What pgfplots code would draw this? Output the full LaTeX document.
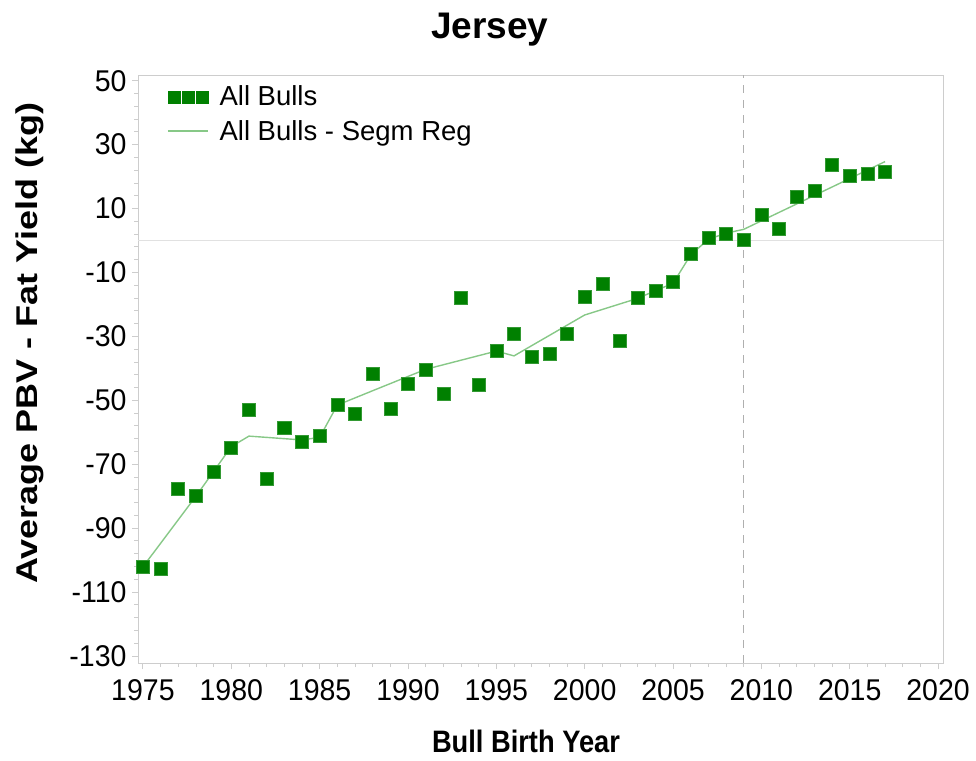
\documentclass[border=0pt]{standalone}
\usepackage{pgfplots}
\usepackage{pgfplotstable}
\pgfplotsset{compat=1.18}
\usepackage{fontspec}
\setmainfont{Liberation Sans}
\newfontfamily\ticksans{Liberation Sans}[FakeStretch=0.95]
\newfontfamily\xlabsans{Liberation Sans}[FakeStretch=0.88]
\newfontfamily\ylabsans{Liberation Sans}[FakeStretch=1.2]

\definecolor{markgreen}{RGB}{0,128,0}
\definecolor{fitgreen}{RGB}{135,200,135}
\definecolor{framegray}{RGB}{205,205,205}
\definecolor{refgray}{RGB}{225,225,225}
\definecolor{dashgray}{RGB}{175,175,175}

% Average PBV for fat yield by bull birth year
\pgfplotstableread{
year  pbv
1975 -102.1
1976 -102.6
1977 -77.8
1978 -80.0
1979 -72.3
1980 -64.8
1981 -53.1
1982 -74.5
1983 -58.6
1984 -63.1
1985 -61.2
1986 -51.4
1987 -54.1
1988 -41.7
1989 -52.8
1990 -44.8
1991 -40.5
1992 -47.9
1993 -17.9
1994 -45.0
1995 -34.6
1996 -29.3
1997 -36.5
1998 -35.6
1999 -29.3
2000 -17.6
2001 -13.6
2002 -31.4
2003 -18.0
2004 -15.8
2005 -12.9
2006 -4.3
2007 0.8
2008 2.1
2009 0.2
2010 8.2
2011 3.8
2012 13.8
2013 15.5
2014 23.6
2015 20.2
2016 20.9
2017 21.5
}\allbulls

% Segmented regression fit
\pgfplotstableread{
year  fit
1975 -102.1
1978 -80.0
1980 -64.5
1981 -61.2
1984 -62.4
1985 -61.6
1986 -51.5
1988 -47.0
1991 -40.3
1995 -34.6
1996 -36.1
2000 -23.3
2003 -18.1
2004 -15.7
2005 -13.4
2006 -4.5
2007 0.4
2008 2.3
2009 3.5
2017 24.7
}\segmreg

\begin{document}
\begin{tikzpicture}
\useasboundingbox (-138pt,-97pt) rectangle (838pt,663pt);
\begin{axis}[
  scale only axis,
  width=805pt, height=588pt,
  xmin=1974.72, xmax=2020.28,
  ymin=-132.2, ymax=51.8,
  xtick={1975,1980,...,2020},
  ytick={-130,-110,...,50},
  minor x tick num=4,
  minor y tick num=4,
  tick align=outside,
  tick pos=left,
  major tick length=6pt,
  minor tick length=4pt,
  axis line style={framegray, line width=0.9pt},
  every tick/.style={framegray, line width=0.9pt},
  /pgf/number format/assume math mode=true,
  /pgf/number format/set thousands separator={},
  ticklabel style={font=\ticksans\fontsize{30}{30}\selectfont, text=black},
  xticklabel style={yshift=-7pt},
  yticklabel style={xshift=-2pt},
  clip=false,
  legend style={at={(rel axis cs:0.036,0.985)}, anchor=north west,
    draw=none, fill=none, inner sep=0pt,
    font=\fontsize{27.5}{27.5}\selectfont,
    row sep=9pt, column sep=9pt, cells={anchor=west}},
]
\draw[refgray, line width=1pt] (axis cs:1974.72,0) -- (axis cs:2020.28,0);
\draw[dashgray, line width=1pt, dash pattern=on 8pt off 7pt] (axis cs:2009,-132.2) -- (axis cs:2009,51.8);

\addplot[only marks, mark=square*, mark size=6.5pt,
  mark options={fill=markgreen, draw=markgreen!80!white, line width=0.6pt},
  legend image code/.code={
    \fill[markgreen] (0pt,-6pt) rectangle (12pt,6pt);
    \fill[markgreen] (14pt,-6pt) rectangle (26pt,6pt);
    \fill[markgreen] (28pt,-6pt) rectangle (40pt,6pt);
  }] table[x=year, y=pbv] {\allbulls};
\addlegendentry{All Bulls}

\addplot[fitgreen, line width=1.4pt, mark=none,
  legend image code/.code={\draw[fitgreen, line width=1.4pt] (0pt,0pt) -- (40pt,0pt);}]
  table[x=year, y=fit] {\segmreg};
\addlegendentry{All Bulls - Segm Reg}

\node[font=\bfseries\fontsize{37}{37}\selectfont] at (rel axis cs:0.437,1.077) {Jersey};
\node[font=\xlabsans\bfseries\fontsize{31}{31}\selectfont, inner sep=0pt] at (rel axis cs:0.482,-0.134) {Bull Birth Year};
\node[font=\ylabsans\bfseries\fontsize{30}{30}\selectfont, rotate=90] at (rel axis cs:-0.134,0.544) {Average PBV - Fat Yield (kg)};
\end{axis}
\end{tikzpicture}
\end{document}
